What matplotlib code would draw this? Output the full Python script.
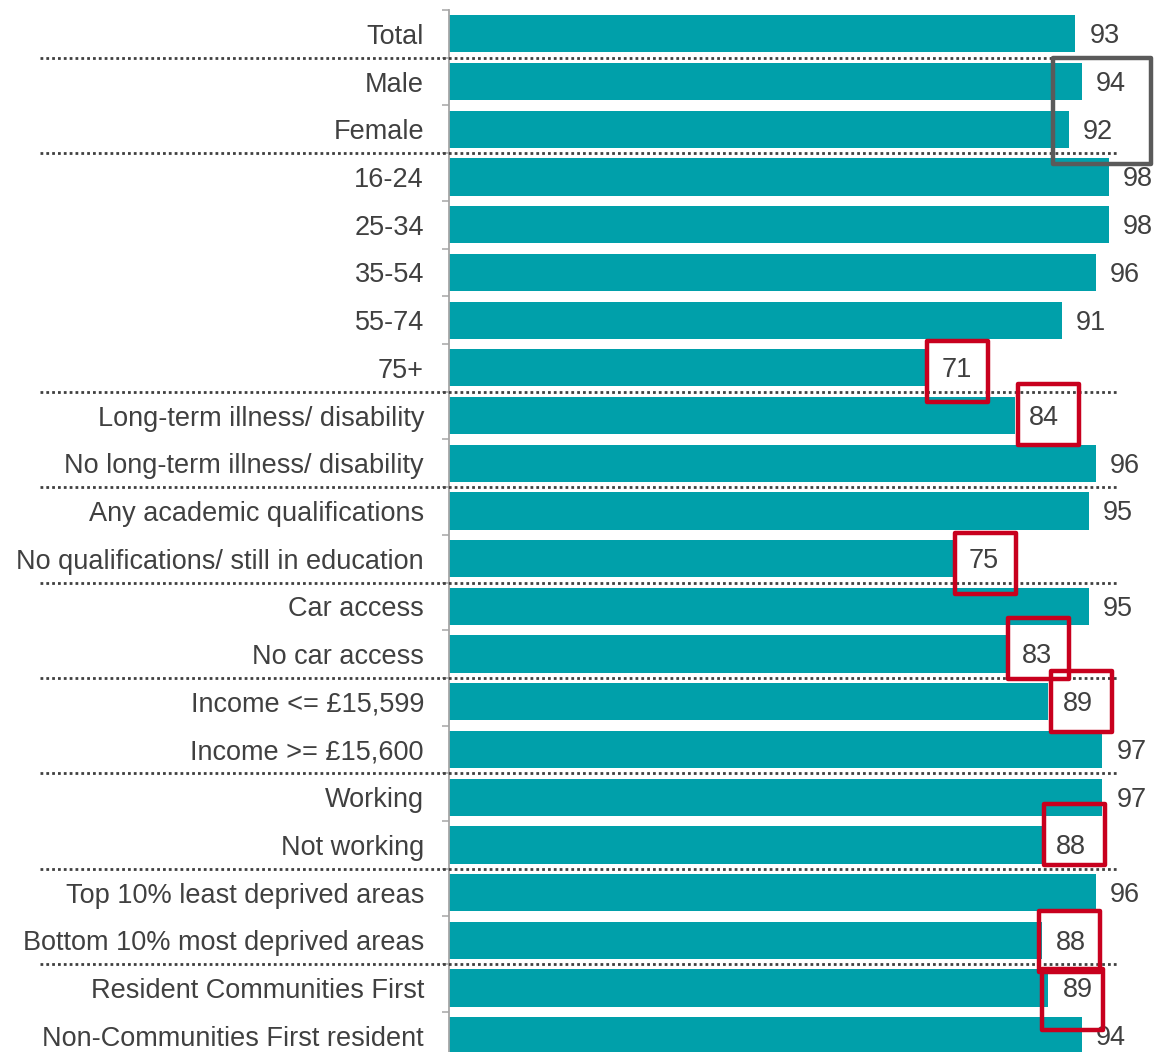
import matplotlib
matplotlib.use("Agg")
import matplotlib.pyplot as plt
from matplotlib.patches import Rectangle
from matplotlib.transforms import blended_transform_factory

plt.rcParams["font.family"] = ["Liberation Sans", "DejaVu Sans"]

# data
categories = [
    "Total",
    "Male", "Female",
    "16-24", "25-34", "35-54", "55-74", "75+",
    "Long-term illness/ disability", "No long-term illness/ disability",
    "Any academic qualifications", "No qualifications/ still in education",
    "Car access", "No car access",
    "Income <= £15,599", "Income >= £15,600",
    "Working", "Not working",
    "Top 10% least deprived areas", "Bottom 10% most deprived areas",
    "Resident Communities First", "Non-Communities First resident",
]
values = [93, 94, 92, 98, 98, 96, 91, 71, 84, 96, 95, 75, 95, 83, 89, 97, 97, 88, 96, 88, 89, 94]

# a dotted separator follows each of these rows
group_ends = [0, 2, 7, 9, 11, 13, 15, 17, 19]
# rows whose value is boxed in red
highlight_rows = [7, 8, 11, 13, 14, 17, 19, 20]
# the male/female comparison boxed in grey
compare_rows = [1, 2]

TEAL = "#00A0AA"
TEXT = "#404040"
RED = "#C8001E"
GREY = "#5A5A5A"

W, H = 1157, 1052
fig = plt.figure(figsize=(W / 100, H / 100), dpi=100)

px_per_unit = 6.735
row_px = 47.71
ax_left = 449
ax_top = 10
n = len(categories)
xmax = (W - ax_left) / px_per_unit
ax_h = n * row_px
ax = fig.add_axes([ax_left / W, 1 - (ax_top + ax_h) / H, (W - ax_left) / W, ax_h / H])

ypos = list(range(n))
ax.barh(ypos, values, height=0.78, color=TEAL, zorder=2)
ax.set_xlim(0, xmax)
ax.set_ylim(n - 0.5, -0.5)

for s in ["top", "right", "bottom"]:
    ax.spines[s].set_visible(False)
ax.spines["left"].set_color("#A6A6A6")
ax.spines["left"].set_linewidth(1.3)
ax.set_xticks([])
ax.set_yticks(ypos)
ax.set_yticklabels(categories, fontsize=19.5, color=TEXT)
ax.tick_params(axis="y", which="major", length=0, pad=18)
ax.set_yticks([i - 0.5 for i in range(n + 1)], minor=True)
ax.tick_params(axis="y", which="minor", length=5, width=1.1, color="#A6A6A6", direction="out")

# value labels
gap = 14 / px_per_unit
label_w = 31 / px_per_unit
for i, v in enumerate(values):
    ax.text(v + gap, i + 0.05, str(v), ha="left", va="center", fontsize=19.5, color=TEXT, zorder=4)

# dotted group separators across the whole figure
tr = blended_transform_factory(fig.transFigure, ax.transData)
for g in group_ends:
    ax.plot([40 / W, 1117 / W], [g + 0.5, g + 0.5], transform=tr, color=TEXT,
            linestyle=(0, (1.0, 1.1)), linewidth=2.0, clip_on=False, zorder=3)

# red boxes round low values (nudges in pixels, hand placed in the original)
nudges = {7: (1, 4), 8: (4, -1), 11: (2, 5), 13: (1, -6), 14: (4, 0), 17: (3, -10), 19: (-2, 1), 20: (-5, 11)}
bw = 61 / px_per_unit
bh = 61 / row_px
for r in highlight_rows:
    dx, dy = nudges[r]
    cx = values[r] + gap + label_w / 2 + dx / px_per_unit
    cy = r + dy / row_px
    ax.add_patch(Rectangle((cx - bw / 2, cy - bh / 2), bw, bh, fill=False,
                           edgecolor=RED, linewidth=3.2, joinstyle="round", zorder=5, clip_on=False))

# grey box round the male/female pair
gx0 = (1053 - ax_left) / px_per_unit
gx1 = (1151 - ax_left) / px_per_unit
gy0 = compare_rows[0] - 0.5
gy1 = compare_rows[-1] + 0.5 + 11 / row_px
ax.add_patch(Rectangle((gx0, gy0), gx1 - gx0, gy1 - gy0, fill=False,
                       edgecolor=GREY, linewidth=3.2, joinstyle="round", zorder=5, clip_on=False))

fig.savefig("out.png", dpi=100)
